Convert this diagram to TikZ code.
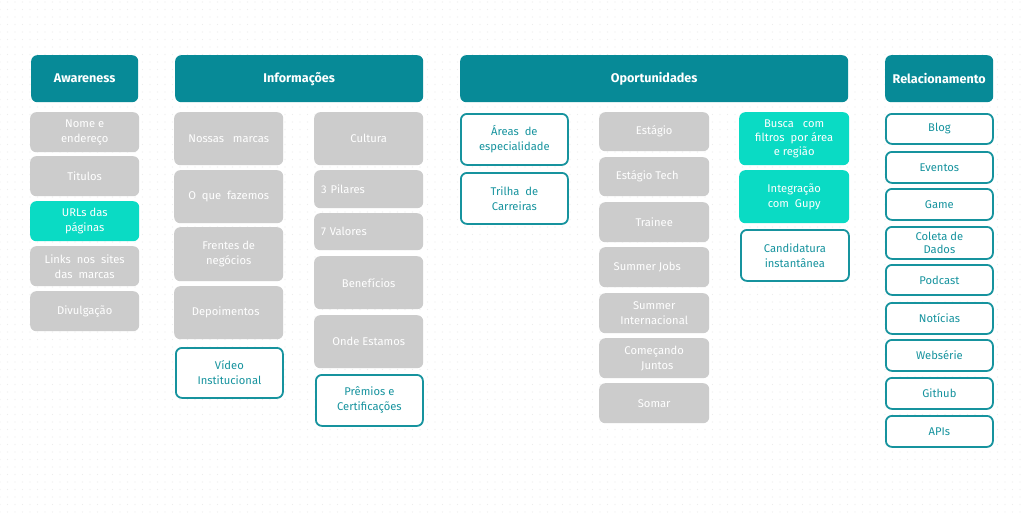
\documentclass[tikz,border=0pt]{standalone}
\usepackage{fontspec}
\setmainfont{Fira Sans}
\usetikzlibrary{patterns}
\definecolor{hdr}{HTML}{078A97}
\definecolor{brt}{HTML}{0ADBC4}
\definecolor{gbx}{HTML}{CCCCCC}
\definecolor{otl}{HTML}{16939E}
\definecolor{dotc}{HTML}{EDEDED}
\pgfdeclarepatternformonly{bgdots}{\pgfqpoint{-1pt}{-1pt}}{\pgfqpoint{1pt}{1pt}}{\pgfqpoint{7.5pt}{7.5pt}}{%
  \pgfpathcircle{\pgfqpoint{0pt}{0pt}}{0.7pt}\pgfusepath{fill}}
\tikzset{
  box/.style={rounded corners=6pt, align=center, inner sep=2pt, font=\fontsize{11.2}{15}\selectfont},
  hdrbox/.style={box, fill=hdr, text=white, font=\fontsize{12.6}{14}\selectfont\bfseries},
  graybox/.style={box, fill=gbx, text=white},
  brtbox/.style={box, fill=brt, text=white},
  outbox/.style={box, draw=otl, line width=1.8pt, fill=white, text=otl},
}
% #1 style, #2 name, #3 x1, #4 y1, #5 x2, #6 y2, #7 text
\newcommand\bx[7]{\node[#1, anchor=north west, minimum width={(#5-#3)*1pt}, minimum height={(#6-#4)*1pt}] (#2) at (#3,#4) {#7};}
\begin{document}
\begin{tikzpicture}[x=1pt,y=-1pt]
\path[use as bounding box, fill=white] (0,0) rectangle (1024,512);
\fill[pattern=bgdots, pattern color=dotc] (0,0) rectangle (1024,512);
% headers
\bx{hdrbox}{aw}{31}{55}{138}{102}{Awareness}
\bx{hdrbox}{inf}{175}{55}{423}{102}{Informações}
\bx{hdrbox}{op}{460}{55}{848}{102}{Oportunidades}
\bx{hdrbox}{rel}{885}{55}{993}{102}{Relacionamento}
% Awareness
\bx{graybox}{a1}{30}{112}{139}{152}{Nome e\\endereço}
\bx{graybox}{a2}{30}{156}{139}{196}{Titulos}
\bx{brtbox}{a3}{30}{201}{139}{241}{URLs das\\páginas}
\bx{graybox}{a4}{30}{246}{139}{286}{Links\ \ nos\ \ sites\\das\ \ marcas}
\bx{graybox}{a5}{30}{291}{139}{331}{Divulgação}
% Informacoes left
\bx{graybox}{i1}{174}{112}{283}{165}{Nossas\ \ \ marcas}
\bx{graybox}{i2}{174}{170}{283}{223}{O\ \ que\ \ fazemos}
\bx{graybox}{i3}{174}{227}{283}{281}{Frentes de\\negócios}
\bx{graybox}{i4}{174}{286}{283}{339}{Depoimentos\hspace{6pt}}
\bx{outbox}{i5}{175}{347}{282}{397}{Vídeo\\Institucional}
% Informacoes right
\bx{graybox}{j1}{314}{112}{423}{165}{Cultura}
\node[graybox, anchor=north west, minimum width=109pt, minimum height=38pt, text width=95pt, align=left, inner xsep=7pt] (j2) at (314,170) {3 Pilares};
\node[graybox, anchor=north west, minimum width=109pt, minimum height=37pt, text width=95pt, align=left, inner xsep=7pt] (j3) at (314,213) {7 Valores};
\bx{graybox}{j4}{314}{256}{423}{309}{Benefícios}
\bx{graybox}{j5}{314}{315}{423}{368}{Onde Estamos}
\bx{outbox}{j6}{315}{374}{422}{425}{Prêmios e\\Certificações}
% Oportunidades left
\bx{outbox}{o1}{460}{113}{567}{164}{Áreas\ \ de\\especialidade}
\bx{outbox}{o2}{460}{172}{567}{223}{Trilha\ \ de\\Carreiras}
% Oportunidades middle
\bx{graybox}{m1}{599}{112}{709}{151}{Estágio}
\bx{graybox}{m2}{599}{157}{709}{196}{Estágio Tech\hspace{14pt}}
\bx{graybox}{m3}{599}{202}{709}{242}{Trainee}
\bx{graybox}{m4}{599}{247}{709}{287}{Summer Jobs\hspace{14pt}}
\bx{graybox}{m5}{599}{293}{709}{333}{Summer\\Internacional}
\bx{graybox}{m6}{599}{338}{709}{378}{Começando\\\hspace{6pt}Juntos}
\bx{graybox}{m7}{599}{383}{709}{423}{Somar}
% Oportunidades right
\node[brtbox, anchor=north west, minimum width=110pt, minimum height=53pt, font=\fontsize{11.2}{14}\selectfont] (r1) at (739,112) {Busca\ \ \ com\\filtros\ \ por área\\e região};
\bx{brtbox}{r2}{739}{170}{849}{223}{Integração\\com\ \ Gupy}
\bx{outbox}{r3}{740}{229}{848}{280}{Candidatura\\instantânea}
% Relacionamento
\bx{outbox}{k1}{885}{113}{992}{143}{Blog}
\bx{outbox}{k2}{885}{151}{992}{182}{Eventos}
\bx{outbox}{k3}{885}{188}{992}{219}{Game}
\node[outbox, anchor=north west, minimum width=107pt, minimum height=32pt, inner ysep=0pt, font=\fontsize{11.2}{13}\selectfont] (k4) at (885,226) {Coleta de\\Dados};
\bx{outbox}{k5}{885}{264}{992}{294}{Podcast}
\bx{outbox}{k6}{885}{302}{992}{333}{Notícias}
\bx{outbox}{k7}{885}{339}{992}{370}{Websérie}
\bx{outbox}{k8}{885}{377}{992}{408}{Github}
\bx{outbox}{k9}{885}{415}{992}{446}{APIs}
\end{tikzpicture}
\end{document}
